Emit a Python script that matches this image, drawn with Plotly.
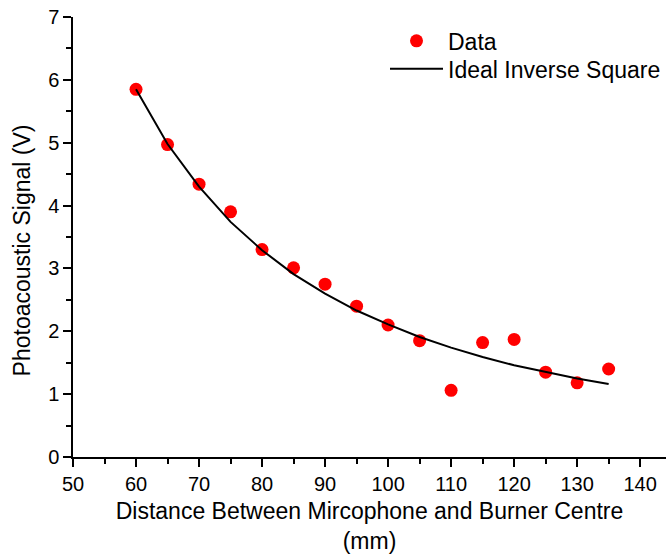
import plotly.graph_objects as go

distance_mm = [60, 65, 70, 75, 80, 85, 90, 95, 100, 105, 110, 115, 120, 125, 130, 135]
signal_v = [5.85, 4.97, 4.34, 3.90, 3.30, 3.01, 2.75, 2.40, 2.10, 1.85, 1.06, 1.82, 1.87, 1.35, 1.18, 1.40]
ideal_v = [5.85, 4.98, 4.30, 3.74, 3.29, 2.91, 2.60, 2.33, 2.11, 1.91, 1.74, 1.59, 1.46, 1.35, 1.25, 1.16]

FONT = "Liberation Sans"
W, H = 666, 554
ML, MR, MT, MB = 73, 0, 17, 94
PW, PH = W - ML - MR, H - MT - MB

fig = go.Figure()
fig.add_trace(go.Scatter(x=distance_mm, y=signal_v, mode="markers", name="Data",
                         marker=dict(color="#ff0000", size=13, line=dict(width=0)),
                         legend="legend", showlegend=True))
fig.add_trace(go.Scatter(x=distance_mm, y=ideal_v, mode="lines", name="Ideal Inverse Square",
                         line=dict(color="black", width=2), legend="legend2", showlegend=True))

axis_common = dict(showgrid=False, zeroline=False, showline=True, linecolor="black",
                   linewidth=1.5, tickcolor="black", tickwidth=1.5,
                   tickfont=dict(family=FONT, size=20, color="black"))

legend_common = dict(xanchor="left", yanchor="top", font=dict(family=FONT, size=23),
                     bgcolor="rgba(0,0,0,0)", itemwidth=53)

fig.update_layout(
    width=W, height=H,
    margin=dict(l=ML, r=MR, t=MT, b=MB),
    plot_bgcolor="white", paper_bgcolor="white",
    font=dict(family=FONT, color="black"),
    showlegend=True,
    xaxis=dict(range=[50, 144.1], tick0=50, dtick=10, ticks="outside", ticklen=8,
               minor=dict(dtick=5, ticks="outside", ticklen=5, tickcolor="black", tickwidth=1.5),
               title=dict(text="Distance Between Mircophone and Burner Centre<br>(mm)",
                          font=dict(family=FONT, size=23), standoff=13),
               **axis_common),
    xaxis2=dict(range=[50, 144.1], overlaying="x", side="top", showticklabels=False,
                tick0=50, dtick=10, ticks="inside", ticklen=3,
                minor=dict(dtick=5, ticks="inside", ticklen=3, tickcolor="black", tickwidth=1.5),
                showgrid=False, zeroline=False, showline=True, linecolor="black",
                linewidth=1.5, tickcolor="black", tickwidth=1.5),
    yaxis=dict(range=[0, 7], tick0=0, dtick=1, ticks="outside", ticklen=8,
               minor=dict(dtick=0.5, ticks="outside", ticklen=5, tickcolor="black", tickwidth=1.5),
               **axis_common),
    legend=dict(x=(385 - ML) / PW, y=0.9946, **legend_common),
    legend2=dict(x=(385 - ML) / PW, y=0.9314, **legend_common),
    annotations=[dict(text="Photoacoustic Signal (V)", textangle=-90, showarrow=False,
                      xref="paper", yref="paper", xanchor="center", yanchor="middle",
                      x=(22 - ML) / PW, y=1 - (252 - MT) / PH,
                      font=dict(family=FONT, size=23, color="black"))],
)

fig.write_html("out.html")
